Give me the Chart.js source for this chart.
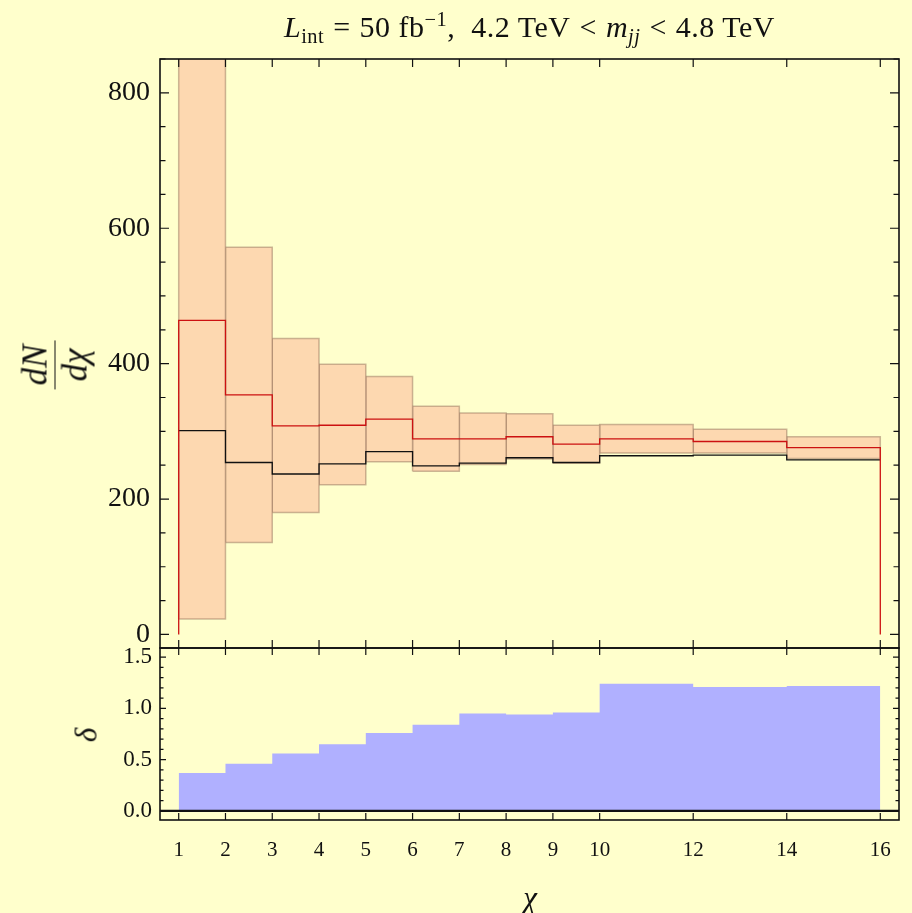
<!DOCTYPE html>
<html>
<head>
<meta charset="utf-8">
<script src="https://cdn.jsdelivr.net/npm/chart.js@4.4.1/dist/chart.umd.min.js"></script>
<style>
  html, body { margin: 0; padding: 0; background: #ffffcc; }
  #wrap { position: relative; width: 912px; height: 913px; overflow: hidden; background: #ffffcc;
          font-family: 'Liberation Serif', 'DejaVu Serif', serif; color: #111; }
  canvas { position: absolute; left: 0; }
  #topChart { top: 0; }
  #bottomChart { top: 640px; }
  .lbl { position: absolute; white-space: nowrap; line-height: 1; }
  .lbl sub, .lbl sup { font-size: 68%; line-height: 0; position: relative; vertical-align: baseline; }
  .lbl sub { top: 0.3em; }
  .lbl sup { top: -0.55em; }
  .op { margin: 0 9px; }
  #title { left: 160px; width: 739px; top: 12px; text-align: center; font-size: 30px; letter-spacing: 0.5px; }
  #ylab { left: 55px; top: 365px; transform: translate(-50%, -50%) rotate(-90deg); font-size: 35px; }
  .frac { display: inline-flex; flex-direction: column; align-items: center; }
  .frac .num { border-bottom: 1.6px solid #111; padding: 0 4px 2px 4px; }
  .frac .den { padding: 2px 4px 0 4px; }
  #dlab { left: 86px; top: 735px; transform: translate(-50%, -50%) rotate(-90deg); font-size: 31px; font-style: italic; }
  #xlab { left: 530px; top: 897px; transform: translate(-50%, -50%); font-size: 31px; font-style: italic; }
</style>
</head>
<body>
<div id="wrap">
  <canvas id="topChart" width="912" height="660"></canvas>
  <canvas id="bottomChart" width="912" height="273"></canvas>
  <div class="lbl" id="title"><i>L</i><sub>int</sub><span class="op">=</span>50 fb<sup>−1</sup>,&nbsp;&nbsp;4.2 TeV<span class="op">&lt;</span><i>m</i><sub><i>jj</i></sub><span class="op">&lt;</span>4.8 TeV</div>
  <div class="lbl" id="ylab"><span class="frac"><span class="num"><i>dN</i></span><span class="den"><i>dχ</i></span></span></div>
  <div class="lbl" id="dlab">δ</div>
  <div class="lbl" id="xlab">χ</div>
</div>
<script>
// bins in chi
const binEdges = [1, 2, 3, 4, 5, 6, 7, 8, 9, 10, 12, 14, 16];

// dN/dchi
const redVals   = [464, 354, 308, 309, 318, 289, 289, 292, 281, 289, 285, 276];
const blackVals = [301, 254, 237, 252, 270, 249, 253, 261, 254, 264, 265, 258];
const boxLow    = [23, 136, 180, 221, 255, 241, 251, 259, 253, 268, 268, 260];
const boxHigh   = [905, 572, 437, 399, 381, 337, 327, 326, 309, 310, 303, 292];

// delta in the lower panel
const deltaVals = [0.37, 0.46, 0.56, 0.65, 0.76, 0.84, 0.95, 0.94, 0.96, 1.24, 1.21, 1.22];

// ticks
const xTicks = [1, 2, 3, 4, 5, 6, 7, 8, 9, 10, 12, 14, 16];
const topTicks = [0, 200, 400, 600, 800];
const bottomTicks = [0, 0.5, 1.0, 1.5];

const xMin = 0.6, xMax = 16.4;
const FONT = "'Liberation Serif', 'DejaVu Serif', serif";

function stepPoints(vals, toZero) {
  const pts = [];
  if (toZero) pts.push({ x: binEdges[0], y: 0 });
  vals.forEach((v, i) => {
    pts.push({ x: binEdges[i], y: v });
    pts.push({ x: binEdges[i + 1], y: v });
  });
  if (toZero) pts.push({ x: binEdges[binEdges.length - 1], y: 0 });
  return pts;
}

function minorTicks(lo, hi, step) {
  const out = [];
  for (let v = lo; v <= hi + 1e-9; v += step) out.push(+v.toFixed(6));
  return out;
}

// no extra room for half-labels, the frame is placed by the layout padding
function fixY(width) {
  return s => { s.width = width; s.paddingTop = 0; s.paddingBottom = 0; };
}

// frame + inward ticks on all four sides
const framePlugin = {
  id: 'frame',
  afterDatasetsDraw(chart, args, opts) {
    const { ctx, chartArea: a, scales: { x, y } } = chart;
    ctx.save();
    ctx.strokeStyle = '#111';
    ctx.lineWidth = 1.2;
    ctx.beginPath();
    xTicks.forEach(v => {
      const px = x.getPixelForValue(v);
      ctx.moveTo(px, a.bottom); ctx.lineTo(px, a.bottom - opts.xLen);
      ctx.moveTo(px, a.top); ctx.lineTo(px, a.top + opts.xLen);
    });
    opts.minor.forEach(v => {
      const py = y.getPixelForValue(v);
      if (py < a.top || py > a.bottom) return;
      ctx.moveTo(a.left, py); ctx.lineTo(a.left + opts.minLen, py);
      ctx.moveTo(a.right, py); ctx.lineTo(a.right - opts.minLen, py);
    });
    opts.major.forEach(v => {
      const py = y.getPixelForValue(v);
      ctx.moveTo(a.left, py); ctx.lineTo(a.left + opts.majLen, py);
      ctx.moveTo(a.right, py); ctx.lineTo(a.right - opts.majLen, py);
    });
    ctx.stroke();
    ctx.lineWidth = 1.6;
    ctx.strokeRect(a.left, a.top, a.right - a.left, a.bottom - a.top);
    ctx.restore();
  }
};

const boxSets = boxLow.map((lo, i) => ({
  data: [
    { x: binEdges[i], y: lo }, { x: binEdges[i], y: boxHigh[i] },
    { x: binEdges[i + 1], y: boxHigh[i] }, { x: binEdges[i + 1], y: lo },
    { x: binEdges[i], y: lo }
  ],
  fill: 'shape',
  backgroundColor: '#fdd8b0',
  borderColor: 'rgba(140,105,85,0.45)',
  borderWidth: 1.5,
  pointRadius: 0
}));

new Chart(document.getElementById('topChart'), {
  type: 'line',
  data: {
    datasets: [
      { data: stepPoints(redVals, true), borderColor: '#cc1111', borderWidth: 1.3, pointRadius: 0, fill: false },
      { data: stepPoints(blackVals, false), borderColor: '#111', borderWidth: 1.3, pointRadius: 0, fill: false },
      ...boxSets
    ]
  },
  options: {
    responsive: false,
    animation: false,
    devicePixelRatio: 1,
    events: [],
    layout: { padding: { top: 59, right: 13, bottom: 12, left: 0 } },
    plugins: {
      legend: { display: false },
      tooltip: { enabled: false },
      frame: { major: topTicks, minor: minorTicks(0, 850, 50), majLen: 9, minLen: 5.5, xLen: 8 }
    },
    scales: {
      x: { type: 'linear', min: xMin, max: xMax, display: false },
      y: {
        min: -20, max: 850,
        afterBuildTicks: s => { s.ticks = topTicks.map(v => ({ value: v })); },
        afterFit: fixY(160),
        grid: { display: false, drawTicks: false },
        border: { display: false },
        ticks: { padding: 10, color: '#111', font: { family: FONT, size: 28 } }
      }
    }
  },
  plugins: [framePlugin]
});

new Chart(document.getElementById('bottomChart'), {
  type: 'line',
  data: {
    datasets: [
      { data: [{ x: xMin, y: 0 }, { x: xMax, y: 0 }], borderColor: '#111', borderWidth: 2.2, pointRadius: 0, fill: false },
      { data: stepPoints(deltaVals, true), borderColor: 'rgba(0,0,0,0)', borderWidth: 0,
        backgroundColor: '#b0b0ff', pointRadius: 0, fill: 'origin' }
    ]
  },
  options: {
    responsive: false,
    animation: false,
    devicePixelRatio: 1,
    events: [],
    layout: { padding: { top: 8, right: 13, bottom: 0, left: 0 } },
    plugins: {
      legend: { display: false },
      tooltip: { enabled: false },
      frame: { major: bottomTicks, minor: minorTicks(-0.1, 1.6, 0.1), majLen: 6, minLen: 3.5, xLen: 7 }
    },
    scales: {
      x: {
        type: 'linear', min: xMin, max: xMax,
        afterBuildTicks: s => { s.ticks = xTicks.map(v => ({ value: v })); },
        afterFit: s => { s.height = 93; s.paddingLeft = 0; s.paddingRight = 0; },
        grid: { display: false, drawTicks: false },
        border: { display: false },
        ticks: { padding: 18, autoSkip: false, maxRotation: 0, color: '#111', font: { family: FONT, size: 21 } }
      },
      y: {
        min: -0.09, max: 1.59,
        afterBuildTicks: s => { s.ticks = bottomTicks.map(v => ({ value: v })); },
        afterFit: fixY(160),
        grid: { display: false, drawTicks: false },
        border: { display: false },
        ticks: { padding: 8, color: '#111', font: { family: FONT, size: 23 }, callback: v => v.toFixed(1) }
      }
    }
  },
  plugins: [framePlugin]
});
</script>
</body>
</html>
